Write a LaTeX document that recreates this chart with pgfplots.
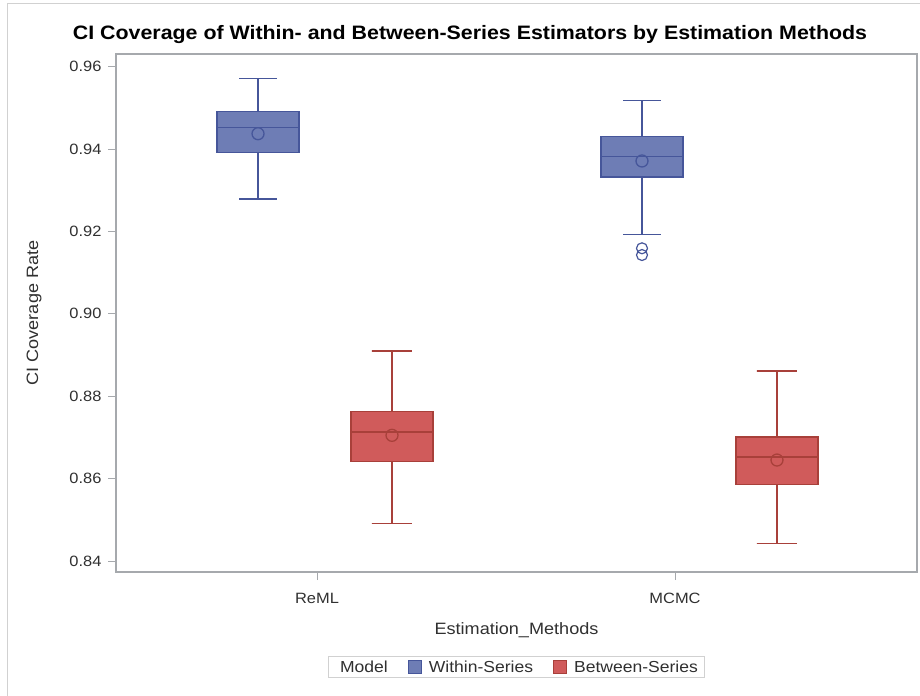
\documentclass[border=0pt]{standalone}
\usepackage{fontspec}
\setmainfont{Liberation Sans}[FakeStretch=1.1]
\usepackage{pgfplots}
\pgfplotsset{compat=1.18}

\definecolor{wfill}{HTML}{6E7DB5}
\definecolor{wedge}{HTML}{46569A}
\definecolor{bfill}{HTML}{D05B5B}
\definecolor{bedge}{HTML}{A8403A}
\definecolor{framegray}{HTML}{A6A9AD}
\definecolor{txtgray}{HTML}{303030}

\begin{document}
\begin{tikzpicture}
\useasboundingbox (0bp,0bp) rectangle (920bp,696bp);
% outer graph border
\draw[color=black!18, line width=1bp] (7bp,0bp) -- (7bp,692bp) -- (925bp,692bp);
% title
\node[font=\fontsize{19.5}{22}\selectfont\bfseries, text=black] at (470bp,661bp) {CI Coverage of Within- and Between-Series Estimators by Estimation Methods};

% categories: ReML = 0, MCMC = 1; Within-Series left of centre, Between-Series right
\begin{axis}[
  at={(116bp,124bp)}, anchor=south west,
  scale only axis, width=801bp, height=518bp,
  xmin=-0.5615, xmax=1.676, ymin=0.83733, ymax=0.96308,
  axis line style={framegray, line width=1.3bp},
  tick style={framegray, line width=1bp},
  tick align=outside, major tick length=8bp,
  xtick pos=bottom, ytick pos=left,
  xtick={0,1}, xticklabels={ReML,MCMC},
  ytick={0.84,0.86,0.88,0.90,0.92,0.94,0.96},
  /pgf/number format/assume math mode=true,
  ticklabel style={font=\fontsize{15}{18}\selectfont, text=txtgray},
  xticklabel style={yshift=-10bp},
  yticklabel style={xshift=-3bp, /pgf/number format/.cd, fixed, fixed zerofill, precision=2},
  xlabel={Estimation\_Methods},
  ylabel={CI Coverage Rate},
  label style={font=\fontsize{16.5}{19}\selectfont, text=txtgray},
  xlabel style={at={(axis description cs:0.5,0)}, anchor=center, yshift=-58bp},
  ylabel style={at={(axis description cs:0,0.5)}, anchor=center, yshift=82bp},
  clip=false,
  unbounded coords=jump,
  legend columns=-1,
  legend style={at={(axis description cs:0.5,-0.184)}, anchor=center,
    draw=black!18, line width=0.8bp, font=\fontsize{16}{19}\selectfont,
    text=txtgray, inner xsep=5bp, inner ysep=2bp,
    /tikz/every odd column/.append style={column sep=5bp},
    /tikz/every even column/.append style={column sep=18bp}},
  legend image code/.code={\draw[#1, line width=1bp] (0bp,-6.5bp) rectangle (13bp,6.5bp);},
  wbox/.style={draw=wedge, fill=wfill, line width=1.3bp, line join=miter},
  bbox/.style={draw=bedge, fill=bfill, line width=1.3bp, line join=miter},
  wline/.style={draw=wedge, line width=1.3bp, mark=none},
  bline/.style={draw=bedge, line width=1.3bp, mark=none},
]
% ---------- ReML, Within-Series: lw 0.92788, q1 0.93912, med 0.94519, q3 0.94907, uw 0.95718
\addplot[forget plot, wline] coordinates {(-0.1648,0.94907) (-0.1648,0.95718) (-0.2178,0.95718) (-0.1118,0.95718)
  (-0.1648,nan) (-0.1648,0.93912) (-0.1648,0.92788) (-0.2178,0.92788) (-0.1118,0.92788)};
\addplot[forget plot, wbox] coordinates {(-0.2793,0.93912) (-0.0503,0.93912) (-0.0503,0.94907) (-0.2793,0.94907)} -- cycle;
\addplot[forget plot, wline] coordinates {(-0.2793,0.94519) (-0.0503,0.94519)};
% ---------- ReML, Between-Series: lw 0.84915, q1 0.86420, med 0.87131, q3 0.87624, uw 0.89098
\addplot[forget plot, bline] coordinates {(0.2095,0.87624) (0.2095,0.89098) (0.1535,0.89098) (0.2655,0.89098)
  (0.2095,nan) (0.2095,0.86420) (0.2095,0.84915) (0.1535,0.84915) (0.2655,0.84915)};
\addplot[forget plot, bbox] coordinates {(0.0950,0.86420) (0.3240,0.86420) (0.3240,0.87624) (0.0950,0.87624)} -- cycle;
\addplot[forget plot, bline] coordinates {(0.0950,0.87131) (0.3240,0.87131)};
% ---------- MCMC, Within-Series: lw 0.91921, q1 0.93322, med 0.93815, q3 0.94310, uw 0.95184
\addplot[forget plot, wline] coordinates {(0.9078,0.94310) (0.9078,0.95184) (0.8548,0.95184) (0.9608,0.95184)
  (0.9078,nan) (0.9078,0.93322) (0.9078,0.91921) (0.8548,0.91921) (0.9608,0.91921)};
\addplot[forget plot, wbox] coordinates {(0.7933,0.93322) (1.0223,0.93322) (1.0223,0.94310) (0.7933,0.94310)} -- cycle;
\addplot[forget plot, wline] coordinates {(0.7933,0.93815) (1.0223,0.93815)};
% ---------- MCMC, Between-Series: lw 0.84420, q1 0.85851, med 0.86524, q3 0.87010, uw 0.88609
\addplot[forget plot, bline] coordinates {(1.2849,0.87010) (1.2849,0.88609) (1.2289,0.88609) (1.3409,0.88609)
  (1.2849,nan) (1.2849,0.85851) (1.2849,0.84420) (1.2289,0.84420) (1.3409,0.84420)};
\addplot[forget plot, bbox] coordinates {(1.1704,0.85851) (1.3994,0.85851) (1.3994,0.87010) (1.1704,0.87010)} -- cycle;
\addplot[forget plot, bline] coordinates {(1.1704,0.86524) (1.3994,0.86524)};
% means
\addplot[forget plot, only marks, mark=o, mark size=6bp, draw=wedge, line width=1.3bp]
  coordinates {(-0.1648,0.94373) (0.9078,0.93711)};
\addplot[forget plot, only marks, mark=o, mark size=6bp, draw=bedge, line width=1.3bp]
  coordinates {(0.2095,0.87051) (1.2849,0.86451)};
% outliers
\addplot[forget plot, only marks, mark=o, mark size=5.5bp, draw=wedge, line width=1.2bp]
  coordinates {(0.9078,0.91591) (0.9078,0.91428)};

\addlegendimage{empty legend}
\addlegendentry{Model}
\addlegendimage{fill=wfill, draw=wedge}
\addlegendentry{Within-Series}
\addlegendimage{fill=bfill, draw=bedge}
\addlegendentry{Between-Series}
\end{axis}
\end{tikzpicture}
\end{document}
